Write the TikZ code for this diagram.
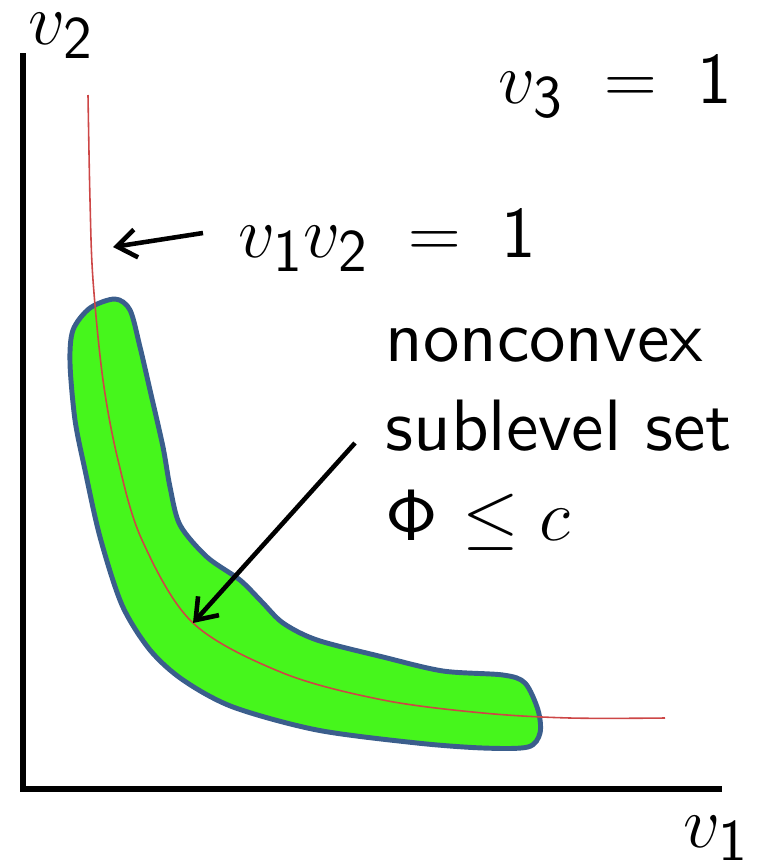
\documentclass[tikz,border=0pt]{standalone}
\usepackage{amsmath}
\usepackage{amssymb}
\usepackage{xcolor}
\usepackage{tikz}
\usetikzlibrary{arrows.meta}
\definecolor{setfill}{RGB}{70,246,28}
\definecolor{setedge}{RGB}{59,94,140}
\definecolor{curvecol}{RGB}{205,70,70}
\DeclareMathSizes{20.7}{20.7}{16}{12}
\DeclareFontFamily{OT1}{sflab}{}
\DeclareFontShape{OT1}{sflab}{m}{n}{<-> cmss10}{}
\newcommand{\labfont}{\fontencoding{OT1}\fontfamily{sflab}\fontseries{m}\fontshape{n}\selectfont}
\newcommand{\sfPhi}{{\labfont\symbol{8}}}

\begin{document}
\begin{tikzpicture}[
  x=0.01cm, y=-0.01cm,
  font=\fontsize{20.7}{25}\selectfont,
  lbl/.style={inner sep=0pt, anchor=base west},
  axis/.style={line width=1.7pt, black},
  hyper/.style={curvecol, line width=0.45pt},
  region/.style={draw=setedge, line width=1.4pt, fill=setfill},
  pointer/.style={-{Straight Barb[length=5.5pt, width=8pt]}, line width=1.3pt, black}
]
  \useasboundingbox (0,0) rectangle (774,860);

  % axes
  \coordinate (orig) at (23,789);
  \coordinate (ytop) at (23,53);
  \coordinate (xend) at (722,789);
  \draw[axis] (ytop) -- (orig) -- (xend);

  % the sublevel set
  \draw[region] plot[smooth cycle, tension=0.5] coordinates {
    (115,299) (130,310) (140,347) (150,390) (163,447) (170,487)
    (180,525) (207,557) (240,580) (262,602) (283,623) (317,640)
    (383,657) (443,671) (503,675) (525,683) (538,710) (540,733)
    (528,747) (483,748) (417,743) (317,730) (233,707) (183,680)
    (150,650) (122,605) (100,537) (85,470) (75,420) (70,363)
    (73,330) (90,308)};

  % the curve v1 v2 = 1
  \draw[hyper] plot[smooth, tension=0.55] coordinates {
    (88,95) (90,200) (93,280) (103,380) (118,460) (142,540)
    (193,623) (283,673) (383,700) (483,713) (570,718) (665,718)};

  % labels
  \node[lbl] (ylab) at (28,44) {$v_{\mathsf{2}}$};
  \node[lbl] (xlab) at (683,847) {$v_{\mathsf{1}}$};
  \node[lbl] (vthree) at (498,103) {$v_{\mathsf{3}} \;=\; \mathsf{1}$};
  \node[lbl] (curvelab) at (238,257) {$v_{\mathsf{1}} v_{\mathsf{2}} \;=\; \mathsf{1}$};
  \node[inner sep=0pt, anchor=north west, align=left, font=\fontsize{20.7}{25.5}\labfont]
    (setlab) at (385,328) {nonconvex\\sublevel set\\\sfPhi\ $\le c$};

  % pointers
  \coordinate (ctail) at (203,233);
  \coordinate (chead) at (113,247);
  \coordinate (stail) at (355,443);
  \coordinate (shead) at (193,623);
  \draw[pointer] (ctail) -- (chead);
  \draw[pointer] (stail) -- (shead);
\end{tikzpicture}
\end{document}
